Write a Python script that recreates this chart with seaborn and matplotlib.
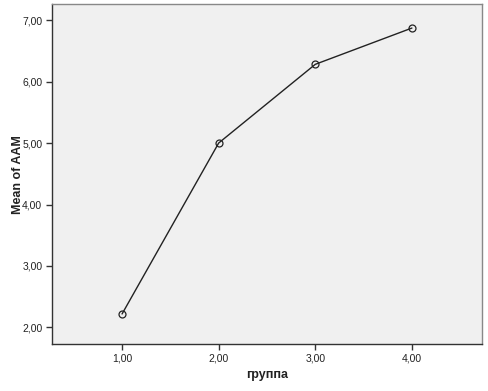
import matplotlib
matplotlib.use("Agg")
import matplotlib.pyplot as plt
import seaborn as sns
import pandas as pd
from matplotlib.ticker import FixedLocator, FuncFormatter

groups = [1.0, 2.0, 3.0, 4.0]
means = [2.22, 5.00, 6.28, 6.87]
x_ticks = [1.0, 2.0, 3.0, 4.0]
y_ticks = [2.0, 3.0, 4.0, 5.0, 6.0, 7.0]

sns.set_style("white")
plt.rcParams['font.family'] = ['Liberation Sans', 'DejaVu Sans']

df = pd.DataFrame({"группа": groups, "Mean of AAM": means})

fig = plt.figure(figsize=(4.88, 3.91), dpi=100)
ax = fig.add_axes([0.1066, 0.120, 0.881, 0.8696])
ax.set_facecolor("#f0f0f0")

sns.lineplot(data=df, x="группа", y="Mean of AAM", ax=ax, color="#222222",
             linewidth=1.0, marker="o", markersize=5, markerfacecolor="none",
             markeredgecolor="#222222", markeredgewidth=0.9)

ax.set_xlim(0.275, 4.725)
ax.set_ylim(1.73, 7.26)
ax.xaxis.set_major_locator(FixedLocator(x_ticks))
ax.yaxis.set_major_locator(FixedLocator(y_ticks))
fmt = FuncFormatter(lambda v, p: f"{v:.2f}".replace(".", ","))
ax.xaxis.set_major_formatter(fmt)
ax.yaxis.set_major_formatter(fmt)

ax.tick_params(axis="both", which="major", direction="out", length=4, width=1,
               color="#333333", labelsize=7.5, labelcolor="#222222", pad=3)
ax.tick_params(axis="x", bottom=True, top=False)
ax.tick_params(axis="y", left=True, right=False)

for side in ["left", "bottom"]:
    ax.spines[side].set_color("#333333")
    ax.spines[side].set_linewidth(1.0)
for side in ["top", "right"]:
    ax.spines[side].set_color("#888888")
    ax.spines[side].set_linewidth(1.0)

ax.set_xlabel("группа", fontsize=9, fontweight="bold", color="#222222")
ax.set_ylabel("Mean of AAM", fontsize=9, fontweight="bold", color="#222222")
ax.xaxis.set_label_coords(0.5, -0.091)
ax.yaxis.set_label_coords(-0.079, 0.5)
ax.xaxis.label.set_va("center")
ax.yaxis.label.set_va("center")

fig.savefig("out.png", dpi=100)
